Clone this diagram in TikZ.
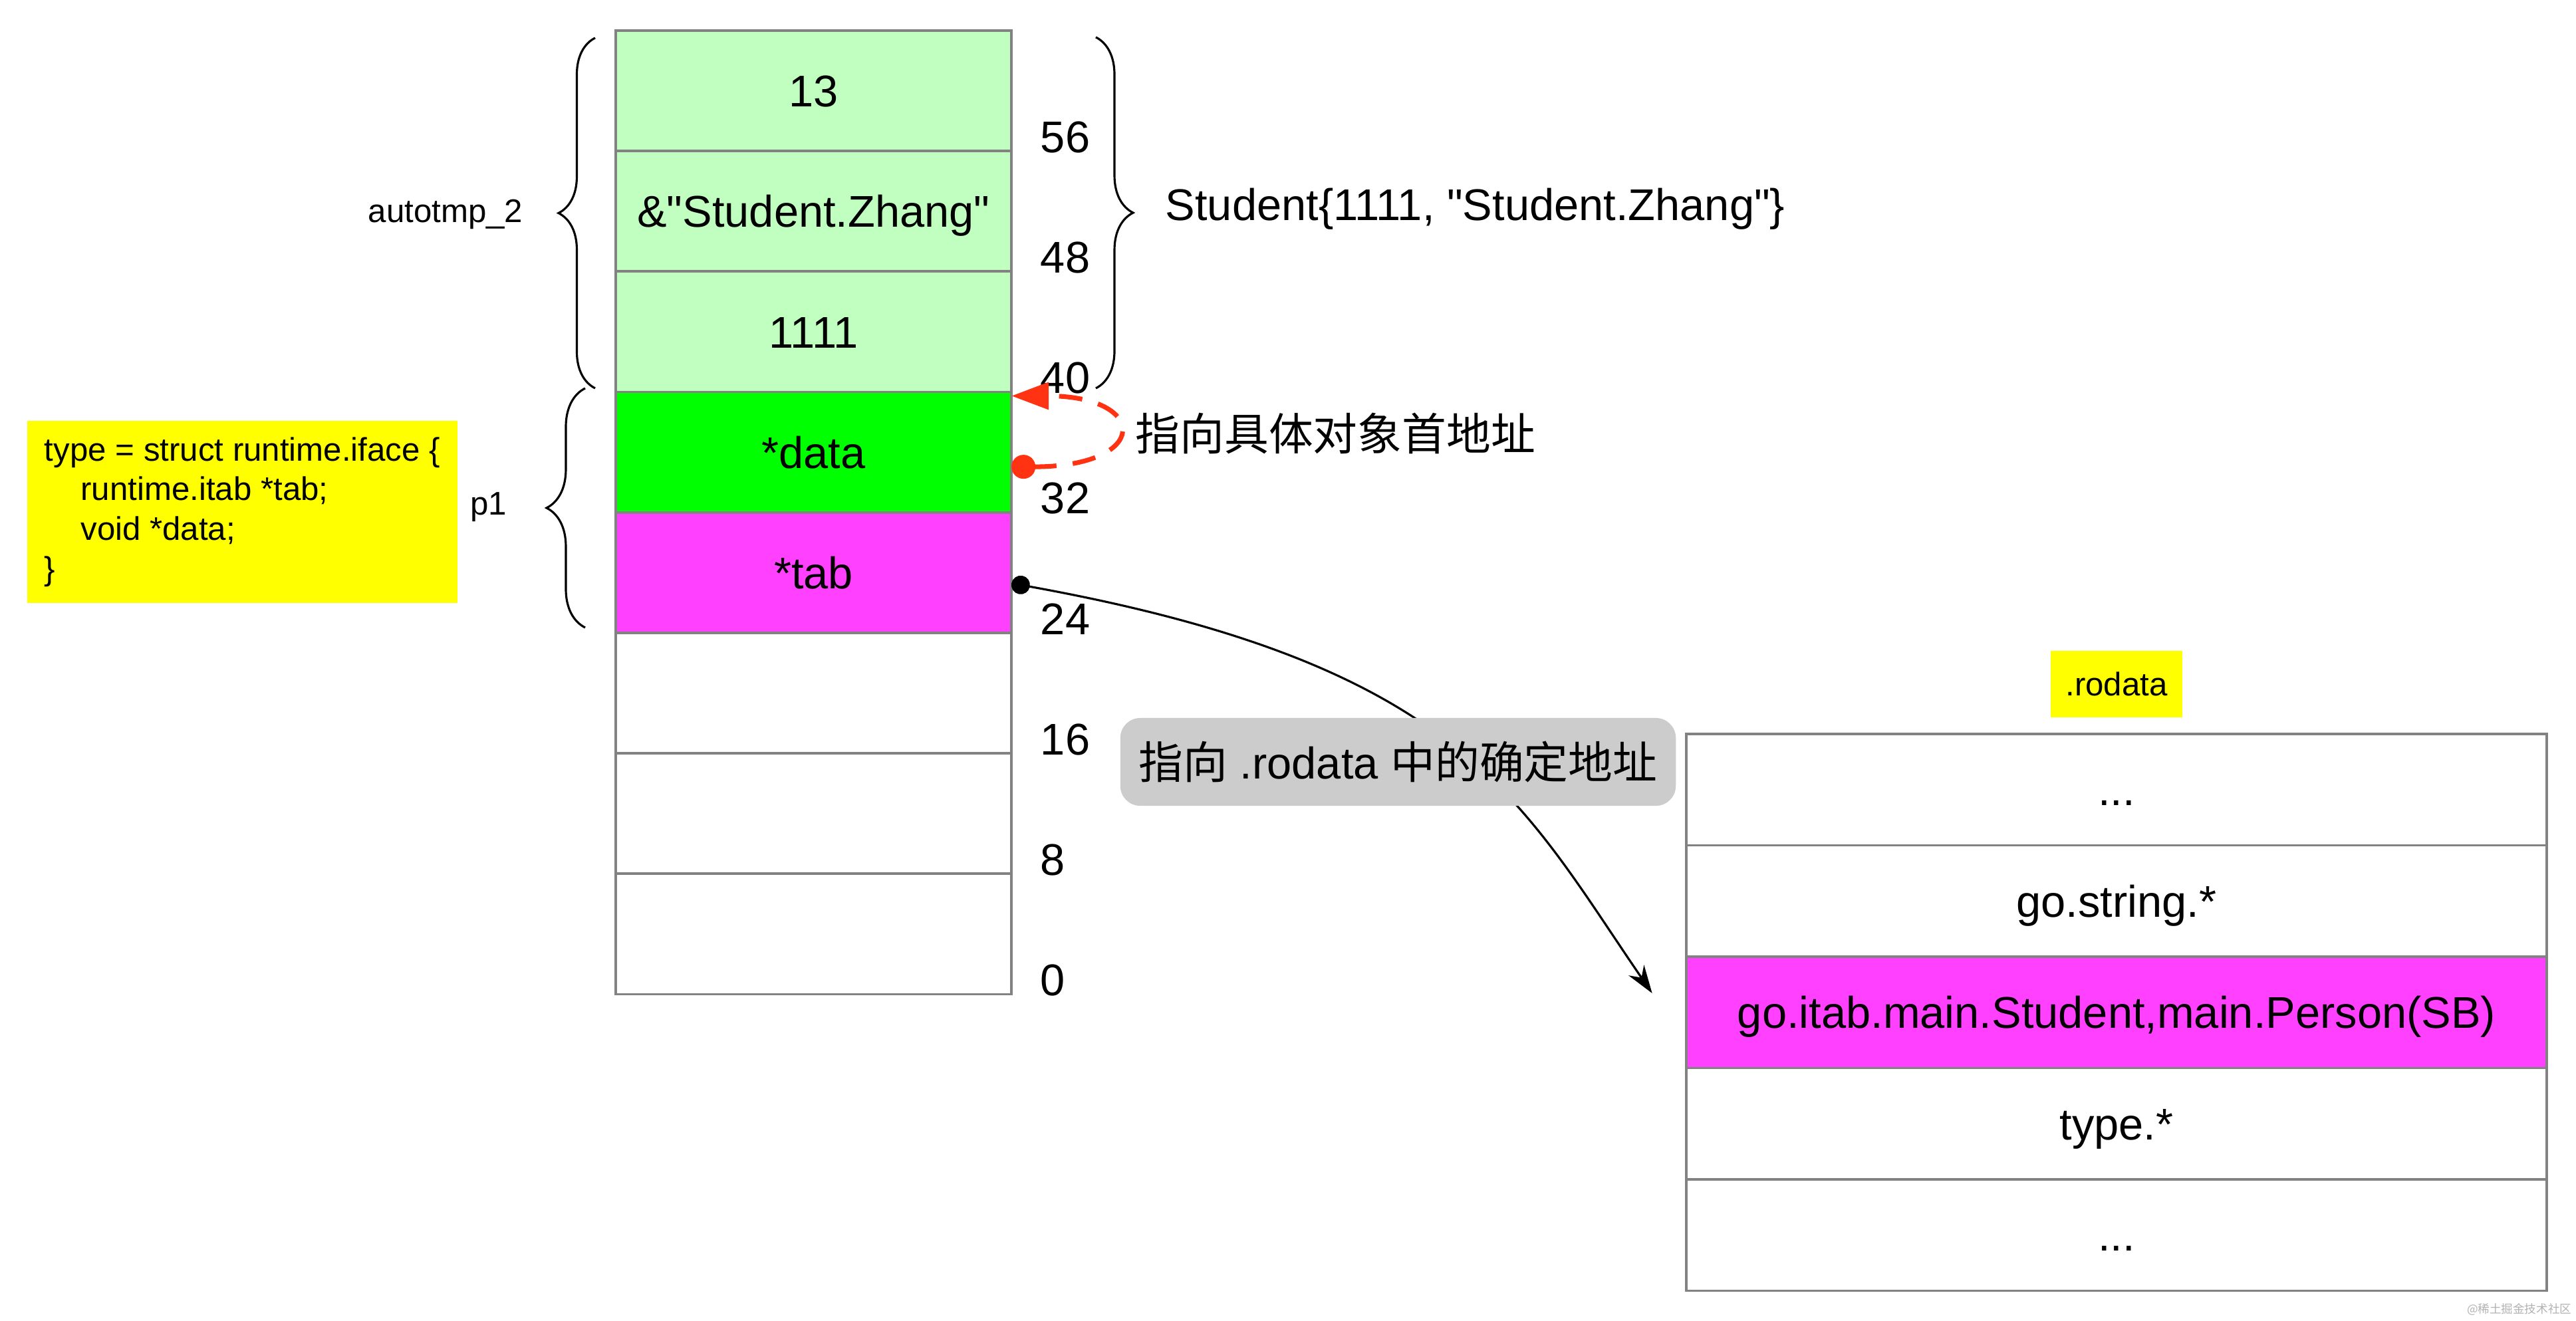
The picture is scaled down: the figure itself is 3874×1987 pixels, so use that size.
\documentclass[tikz,border=0pt]{standalone}
\usepackage{fontspec}
\setmainfont{Liberation Sans}
\newfontfamily\cjk{Noto Sans CJK SC}
\usetikzlibrary{positioning,arrows.meta,decorations.pathreplacing}

\definecolor{lightgreen}{RGB}{192,255,192}
\definecolor{datagreen}{RGB}{0,255,0}
\definecolor{tabpink}{RGB}{255,64,255}
\definecolor{cellgray}{RGB}{130,130,130}
\definecolor{ptrred}{RGB}{255,51,17}
\definecolor{notegray}{RGB}{204,204,204}
\definecolor{tagyellow}{RGB}{255,255,0}

\tikzset{
  cell/.style={draw=cellgray, line width=1.1pt, outer sep=0pt, inner sep=0pt,
    minimum width=5.95cm, minimum height=1.811cm, text height=13.7pt, text depth=0pt,
    font=\fontsize{19}{23}\selectfont},
  rocell/.style={cell, minimum width=12.94cm, minimum height=1.674cm},
  bigtext/.style={inner sep=0pt, font=\fontsize{19}{23}\selectfont},
  offs/.style={bigtext, anchor=west},
  smalltext/.style={inner sep=0pt, font=\fontsize{14}{17}\selectfont},
  codebox/.style={fill=tagyellow, minimum width=6.47cm, minimum height=2.74cm,
    align=left, font=\fontsize{14}{17}\selectfont},
  tagbox/.style={fill=tagyellow, minimum width=1.97cm, minimum height=1cm,
    inner sep=0pt, font=\fontsize{14}{17}\selectfont},
  notebox/.style={fill=notegray, rounded corners=0.3cm, minimum width=8.35cm,
    minimum height=1.32cm, inner sep=0pt, font=\fontsize{19}{23}\selectfont},
  brc/.style={decorate, decoration={brace, amplitude=#1}, line width=0.9pt},
  selfptr/.style={draw=ptrred, line width=2pt, dash pattern=on 10pt off 7pt,
    {Circle[length=0.36cm]}-{Triangle[length=0.56cm,width=0.4cm]}},
  tabptr/.style={line width=0.9pt,
    {Circle[length=0.28cm]}-{Stealth[length=0.42cm,width=0.28cm]}},
}

\begin{document}
\begin{tikzpicture}[x=0.01cm, y=-0.01cm]
\useasboundingbox (0,0) rectangle (3874,1987);

%Declare stack cells.
\node[cell, fill=lightgreen] (v13) at (1223.5,136.5) {13};
\node[cell, fill=lightgreen, below=0pt of v13] (name) {\&\textquotedbl Student.Zhang\textquotedbl};
\node[cell, fill=lightgreen, below=0pt of name] (id) {1111};
\node[cell, fill=datagreen, below=0pt of id] (data) {*data};
\node[cell, fill=tabpink, below=0pt of data] (tab) {*tab};
\node[cell, fill=white, below=0pt of tab] (e1) {};
\node[cell, fill=white, below=0pt of e1] (e2) {};
\node[cell, fill=white, below=0pt of e2] (e3) {};

%Offsets.
\node[offs] (o56) at ([xshift=0.43cm, yshift=0.21cm]v13.south east) {56};
\node[offs] (o48) at ([xshift=0.43cm, yshift=0.21cm]name.south east) {48};
\node[offs] (o40) at ([xshift=0.43cm, yshift=0.21cm]id.south east) {40};
\node[offs] (o32) at ([xshift=0.43cm, yshift=0.21cm]data.south east) {32};
\node[offs] (o24) at ([xshift=0.43cm, yshift=0.21cm]tab.south east) {24};
\node[offs] (o16) at ([xshift=0.43cm, yshift=0.21cm]e1.south east) {16};
\node[offs] (o8) at ([xshift=0.43cm, yshift=0.21cm]e2.south east) {8};
\node[offs] (o0) at ([xshift=0.43cm, yshift=0.21cm]e3.south east) {0};

%Braces and their labels.
\draw[brc=0.55cm] (895,584) -- (895,57);
\draw[brc=0.58cm] (880,944) -- (880,584);
\draw[brc=0.56cm] (1648,56) -- (1648,584);
\node[smalltext] (auto) at (670,322) {autotmp\_2};
\node[smalltext] (p1) at (735,763) {p1};
\node[bigtext, anchor=west] (stu) at (1752,314) {Student\{1111, \textquotedbl Student.Zhang\textquotedbl\}};

%Iface layout.
\node[codebox] (iface) at (364.5,770) {type = struct runtime.iface \{\\
  \hspace*{15.5pt}runtime.itab *tab;\\
  \hspace*{15.5pt}void *data;\\
  \}};

%Rodata section.
\node[rocell, fill=white] (ro1) at (3183,1187.7) {...};
\node[rocell, fill=white, below=0pt of ro1] (ro2) {go.string.*};
\node[rocell, fill=tabpink, below=0pt of ro2] (ro3) {go.itab.main.Student,main.Person(SB)};
\node[rocell, fill=white, below=0pt of ro3] (ro4) {type.*};
\node[rocell, fill=white, below=0pt of ro4] (ro5) {...};
\node[tagbox, above=0.24cm of ro1] (rolbl) {.rodata};

%Setup pointers.
\coordinate (dfrom) at ([yshift=-0.22cm]data.east);
\coordinate (dto) at ([yshift=-0.06cm]data.north east);
\draw[selfptr] (dfrom) .. controls +(2.1cm,0) and +(2.07cm,0) .. (dto);
\node[bigtext, anchor=west] (selflbl) at (1707,652) {\cjk 指向具体对象首地址};

\coordinate (tfrom) at ([yshift=-0.16cm]tab.east);
\coordinate (tto) at ([xshift=-0.51cm, yshift=-0.55cm]ro3.north west);
\draw[tabptr] (tfrom) .. controls (2200,1000) and (2285,1203) .. (tto);
\node[notebox] (rolink) at (2102.5,1146) {{\cjk 指向} .rodata {\cjk 中的确定地址}};

\node[anchor=east, inner sep=0pt, text=black!30, font=\cjk\fontsize{5}{6}\selectfont] (wm) at (3868,1970) {@稀土掘金技术社区};

\end{tikzpicture}
\end{document}
